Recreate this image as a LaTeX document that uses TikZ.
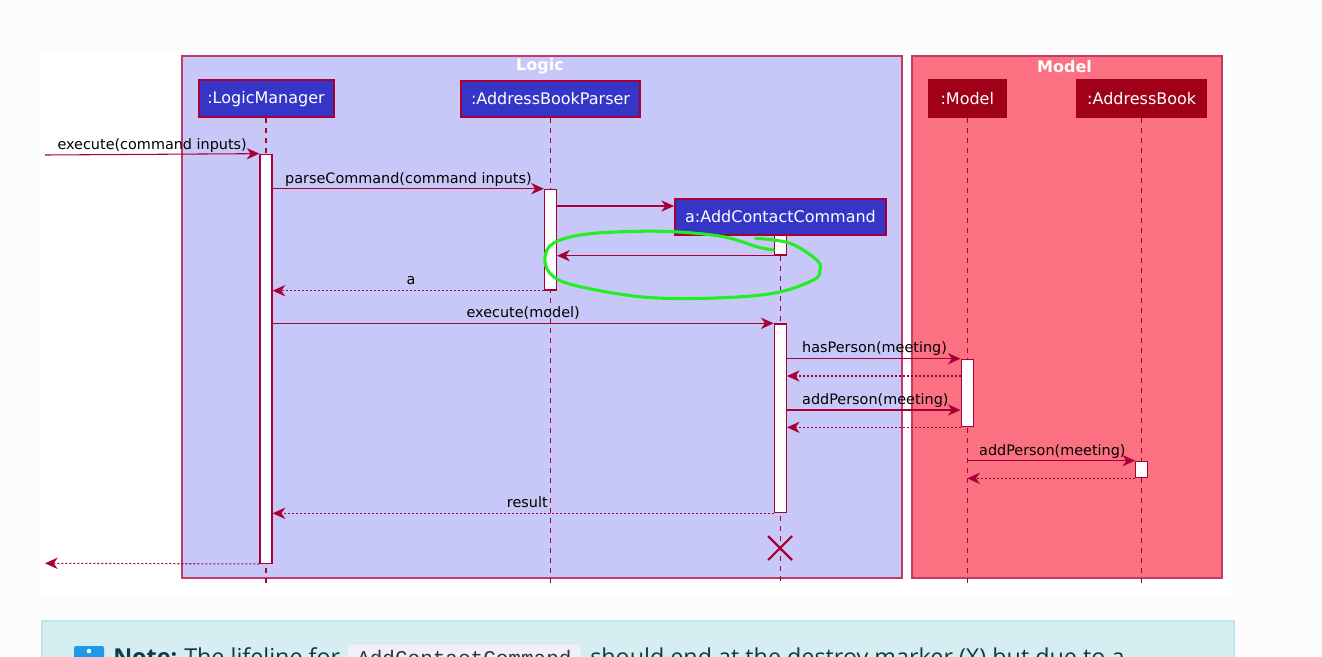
\documentclass[tikz,border=0pt]{standalone}
\usepackage{fontspec}
\setmainfont{DejaVu Sans}
\newfontfamily\notefont{Open Sans}
\newfontfamily\notemono{Liberation Mono}
\usetikzlibrary{arrows.meta}
\definecolor{crim}{HTML}{A80036}
\definecolor{logicfill}{HTML}{C8C8F8}
\definecolor{modelfill}{HTML}{FB7181}
\definecolor{partblue}{HTML}{3535C8}
\definecolor{partred}{HTML}{A00018}
\definecolor{framedraw}{HTML}{C43A66}
\definecolor{loopgreen}{HTML}{22EE22}
\definecolor{notebg}{HTML}{D6EEF2}
\definecolor{noteborder}{HTML}{BEE5EB}
\definecolor{notetext}{HTML}{0E3B48}
\definecolor{codebg}{HTML}{F0F0FB}
\definecolor{codeborder}{HTML}{E2E2EE}
\definecolor{iconblue}{HTML}{1E9BE8}
\definecolor{pagebg}{HTML}{FCFCFC}
\newcommand\lblf{\fontsize{10.8}{13}\selectfont}
\newcommand\partf{\fontsize{12}{14}\selectfont}
\newcommand\titlef{\bfseries\fontsize{12}{14}\selectfont}
\newcommand\notef{\notefont\fontsize{17.5}{20}\selectfont}
\tikzset{
  frame/.style={draw=framedraw, line width=0.9pt, inner sep=0pt},
  ftitle/.style={text=white, font=\titlef, inner sep=0pt},
  part/.style={draw=crim, line width=1.5pt, fill=partblue, text=white, font=\partf, inner sep=0pt},
  mpart/.style={draw=partred, line width=1pt, fill=partred, text=white, font=\partf, inner sep=0pt},
  act/.style={draw=crim, fill=white, line width=1pt, minimum width=9pt, inner sep=0pt},
  life/.style={draw=crim, line width=0.8pt, dash pattern=on 3.75pt off 3.75pt},
  msg/.style={draw=crim, line width=0.8pt, -{Stealth[length=9.5pt,width=8.5pt,inset=3pt]}},
  ret/.style={msg, dash pattern=on 1.5pt off 1.5pt},
  lbl/.style={font=\lblf, text=black, inner sep=0pt},
  notetxt/.style={font=\notef, text=notetext, inner sep=0pt, anchor=base west},
}
\begin{document}
\begin{tikzpicture}[x=0.75pt,y=-0.75pt]
\useasboundingbox (0,0) rectangle (1322,657);
\clip (0,0) rectangle (1322,657);
\fill[pagebg] (0,0) rectangle (1322,657);
\fill[white] (40,50) rectangle (1233,597);

% frames
\node[frame, fill=logicfill, minimum width=540pt, minimum height=391.5pt] (logic) at (542,317) {};
\node[frame, fill=modelfill, minimum width=232.5pt, minimum height=391.5pt] (model) at (1067,317) {};
\node[ftitle] (logict) at (540,66.5) {Logic};
\node[ftitle] (modelt) at (1064.5,67) {Model};

% participants
\node[part, minimum width=101.25pt, minimum height=27.75pt] (lm) at (266,98.8) {:LogicManager};
\node[part, minimum width=134pt, minimum height=27.5pt] (p) at (550.5,99) {:AddressBookParser};
\node[part, minimum width=158.25pt, minimum height=27pt] (ac) at (780.5,217) {a:AddContactCommand};
\node[mpart, minimum width=58pt, minimum height=28.3pt] (m) at (967.3,98.8) {:Model};
\node[mpart, minimum width=97pt, minimum height=28.3pt] (ab) at (1141.7,98.8) {:AddressBook};

% lifelines
\coordinate (bot) at (0,584);
\draw[life] (lm.south) -- (lm.south |- bot);
\draw[life] (p.south) -- (p.south |- bot);
\draw[life] (ac.south) -- (ac.south |- bot);
\draw[life] (m.south) -- (m.south |- bot);
\draw[life] (ab.south) -- (ab.south |- bot);

% activations
\node[act, minimum height=306.75pt] (lmA) at (266,358.8) {};
\node[act, minimum height=75.5pt] (pA) at (550.5,239.7) {};
\node[act, minimum height=15pt] (acA1) at (780.5,245) {};
\node[act, minimum height=141.5pt] (acA2) at (780.3,418.3) {};
\node[act, minimum height=50.5pt] (mA) at (967.2,393) {};
\node[act, minimum height=12.3pt] (abA) at (1141.7,469.5) {};

% message rows
\coordinate (inS) at (45,155);
\coordinate (outE) at (45,563.3);
\coordinate (yCreate) at (0,206);
\coordinate (yR1) at (0,376);
\coordinate (yM2) at (0,410);
\coordinate (xdest) at (780,548);

% messages
\draw[msg] (inS) -- (lmA.north west)
  node[lbl, pos=0, anchor=base west, xshift=9pt, yshift=4.2pt] (l1) {execute(command inputs)};
\draw[msg] (lmA.north east |- pA.north) -- (pA.north west)
  node[lbl, pos=0, anchor=base west, xshift=9pt, yshift=4.2pt] (l2) {parseCommand(command inputs)};
\draw[msg] (pA.east |- yCreate) -- (ac.west |- yCreate);
\draw[msg] (acA1.south west) -- (pA.east |- acA1.south);
\draw[ret] (pA.south west) -- (lmA.east |- pA.south)
  node[lbl, midway, anchor=base, yshift=4.5pt, xshift=2pt] (l3) {a};
\draw[msg] (lmA.east |- acA2.north) -- (acA2.north west)
  node[lbl, midway, anchor=base, yshift=4.2pt] (l4) {execute(model)};
\draw[msg] (acA2.east |- mA.north) -- (mA.north west)
  node[lbl, pos=0, anchor=base west, xshift=11pt, yshift=4.5pt] (l5) {hasPerson(meeting)};
\draw[ret] (mA.west |- yR1) -- (acA2.east |- yR1);
\draw[msg] (acA2.east |- yM2) -- (mA.west |- yM2)
  node[lbl, pos=0, anchor=base west, xshift=11pt, yshift=4pt] (l6) {addPerson(meeting)};
\draw[ret] (mA.south west) -- (acA2.east |- mA.south);
\draw[msg] (m.south |- abA.north) -- (abA.north west)
  node[lbl, pos=0, anchor=base west, xshift=8.5pt, yshift=4pt] (l7) {addPerson(meeting)};
\draw[ret] (abA.south west) -- (m.south |- abA.south);
\draw[ret] (acA2.south west) -- (lmA.east |- acA2.south)
  node[lbl, anchor=base east, pos=0.45, yshift=4.5pt] (l8) {result};
\draw[ret] (lmA.south west) -- (outE);

% destroy marker
\draw[crim, line width=1.6pt] (xdest) +(-12,-12) -- +(12,12) +(-12,12) -- +(12,-12);

% hand-drawn green loop
\draw[loopgreen, line width=2.3pt, line cap=round, line join=round]
  plot[smooth, tension=0.6] coordinates {
   (755.7,238.3) (790,243.3) (816.7,260) (820,270) (813.3,280) (773.3,293.3)
   (706.7,298.3) (640,296.7) (573.3,285) (550,273.3) (545,256.7) (553.3,243.3)
   (580,235) (623.3,231.7) (673.3,231.7) (723.3,236.7) (756.7,246.7) (773.3,250)};

% note box (cut off by the picture edge)
\filldraw[fill=notebg, draw=noteborder, line width=0.9pt] (42,621) rectangle (1234,720);
\fill[iconblue, rounded corners=1.5pt] (74,646) rectangle (104,680);
\fill[white] (89,651) circle (1.7pt);
\node[notetxt, font=\notef\bfseries] (n1) at (113,665) {Note:};
\node[notetxt] (n2) at (184,665) {The lifeline for};
\filldraw[fill=codebg, draw=codeborder, rounded corners=3pt] (347,644) rectangle (581,690);
\node[notetxt, font=\notemono\fontsize{15.75}{18}\selectfont, text=black!80] (n3) at (357,665) {AddContactCommand};
\node[notetxt] (n4) at (590,665) {should end at the destroy marker (X) but due to a};
\end{tikzpicture}
\end{document}
